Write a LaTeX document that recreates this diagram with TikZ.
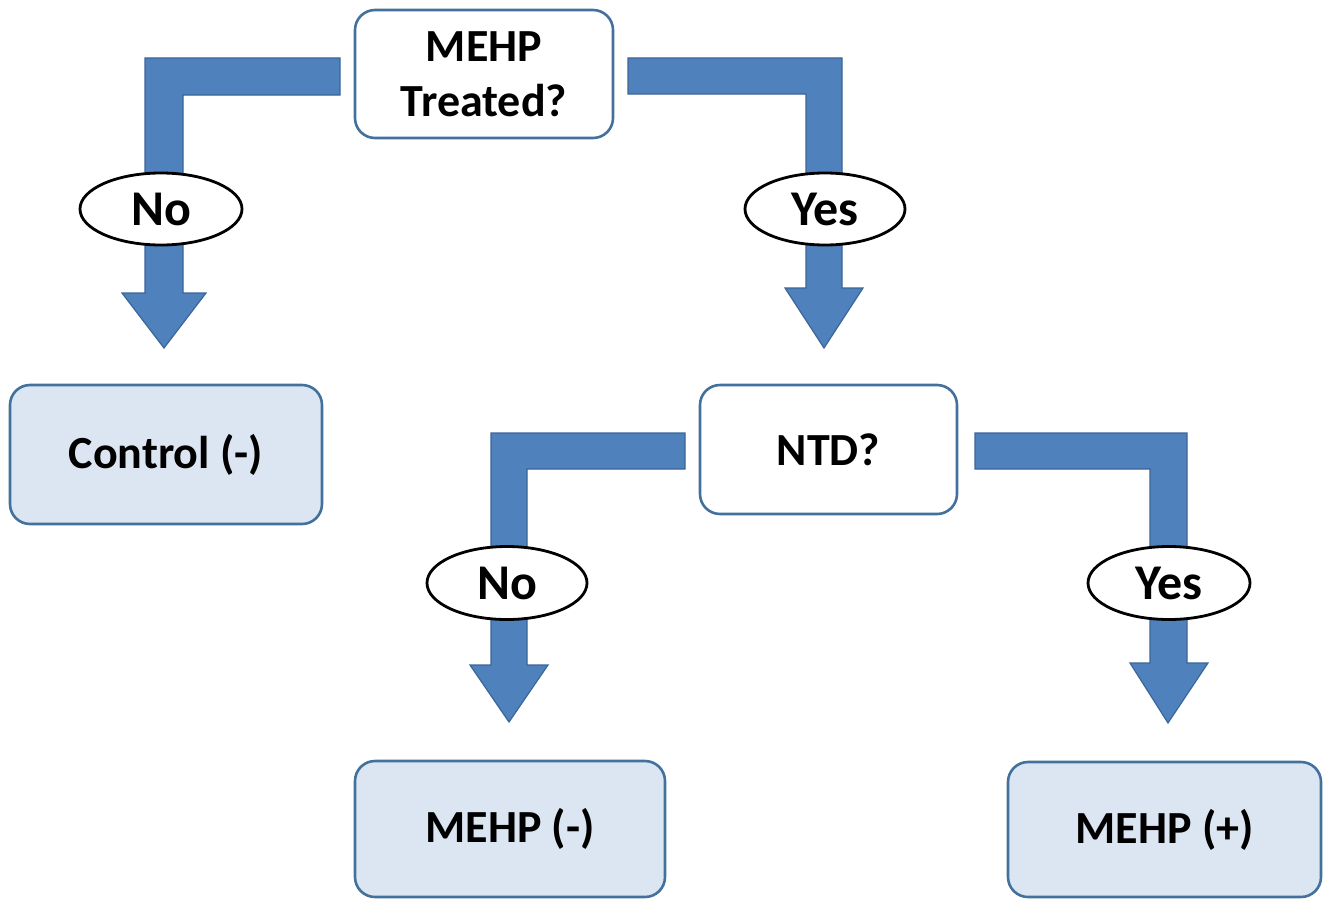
\documentclass[tikz,border=0pt]{standalone}
\usepackage{fontspec}
\setmainfont{Carlito}
\usetikzlibrary{shapes.geometric}
\definecolor{arrowblue}{HTML}{4F81BD}
\definecolor{arrowedge}{HTML}{3B6696}
\definecolor{boxedge}{HTML}{41719C}
\definecolor{resfill}{HTML}{DCE6F2}
\tikzset{
  qbox/.style={draw=boxedge, line width=2.6pt, rounded corners=20pt, fill=white,
    align=center, inner sep=0pt, font=\bfseries\fontsize{46}{55}\selectfont},
  resbox/.style={qbox, fill=resfill},
  lab/.style={draw=black, line width=2.8pt, ellipse, fill=white, inner sep=0pt,
    font=\bfseries\fontsize{50}{56}\selectfont},
  blockarrow/.style={fill=arrowblue, draw=arrowedge, line width=1.2pt, line join=miter}
}
\begin{document}
\begin{tikzpicture}[x=1pt,y=-1pt]
\useasboundingbox (0,0) rectangle (1329,899);
% nodes
\node[qbox, minimum width=258pt, minimum height=128pt] (q1) at (484,74) {MEHP\\Treated?};
\node[qbox, minimum width=257pt, minimum height=129pt] (q2) at (828.5,449.5) {NTD?};
\node[resbox, minimum width=312pt, minimum height=139pt] (ctrl) at (166,454.5) {Control (-)};
\node[resbox, minimum width=310pt, minimum height=136pt] (mneg) at (510,829) {MEHP (-)};
\node[resbox, minimum width=313pt, minimum height=135pt] (mpos) at (1164.5,829.5) {MEHP (+)};
% block arrows
\draw[blockarrow] (340,58) -- (145,58) -- (145,293) -- (122,293) -- (164,348)
  -- (206,293) -- (183,293) -- (183,95) -- (340,95) -- cycle;
\draw[blockarrow] (628,58) -- (842,58) -- (842,288) -- (863,288) -- (824,348)
  -- (785,288) -- (806,288) -- (806,94) -- (628,94) -- cycle;
\draw[blockarrow] (685,433) -- (491,433) -- (491,665) -- (470,665) -- (509,722)
  -- (548,665) -- (527,665) -- (527,469) -- (685,469) -- cycle;
\draw[blockarrow] (975,433) -- (1187,433) -- (1187,663) -- (1208,663) -- (1168,723)
  -- (1130,663) -- (1150,663) -- (1150,469) -- (975,469) -- cycle;
% labels
\node[lab, minimum width=162pt, minimum height=72pt] (no1) at (161,209) {No};
\node[lab, minimum width=160pt, minimum height=72pt] (yes1) at (825,209) {Yes};
\node[lab, minimum width=160pt, minimum height=73pt] (no2) at (507,583) {No};
\node[lab, minimum width=162pt, minimum height=73pt] (yes2) at (1169,583) {Yes};
\end{tikzpicture}
\end{document}
